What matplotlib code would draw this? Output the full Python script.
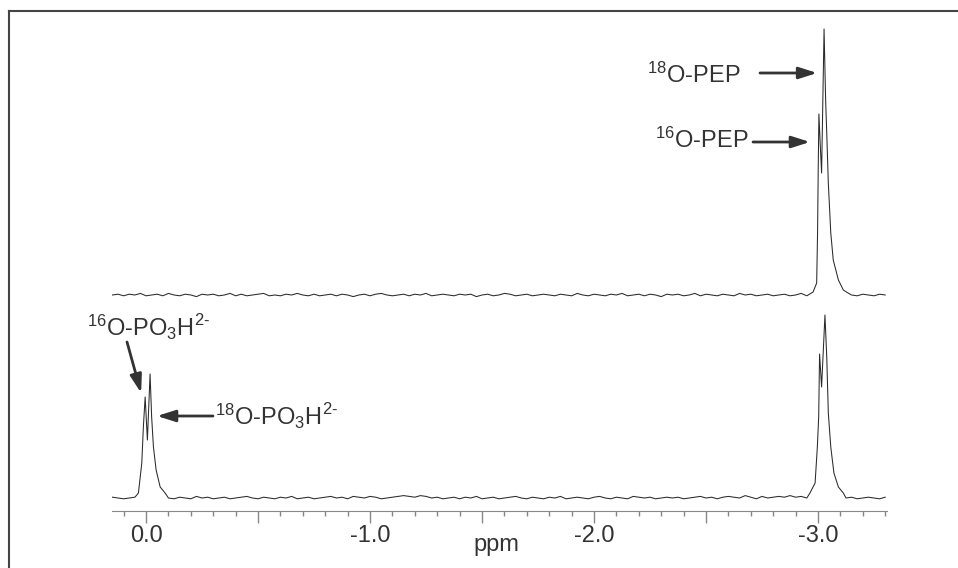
import numpy as np
import matplotlib
matplotlib.use("Agg")
import matplotlib.pyplot as plt
from matplotlib.lines import Line2D
from matplotlib.ticker import MultipleLocator

plt.rcParams["font.family"] = ["Liberation Sans", "DejaVu Sans"]
plt.rcParams["mathtext.fontset"] = "custom"
plt.rcParams["mathtext.rm"] = "Liberation Sans"

# baseline wiggles, sampled every 0.025 ppm from 0.15 to -3.30 ppm
top_noise = [0, 1, -1, 1, 0, 2, -1, 0, 1, -1, 2, 0, -1, 1, 0, -2, 1, 0, 1, -1,
             0, 2, -1, 1, -1, 0, 1, 2, -1, 0, -1, 1, 0, 2, 0, -1, 1, -1, 0, 1,
             -1, 1, 0, -2, 0, 1, -1, 1, 2, 0, -1, 0, 1, -1, 1, 0, 2, -1, 0, 1,
             0, -1, 1, 0, 1, -2, 0, 1, -1, 0, 2, 1, -1, 0, 1, -1, 0, 1, 0, -1,
             1, 0, -1, 2, 0, -1, 1, 0, -1, 1, 0, 2, -1, 0, 1, -1, 1, 0, -2, 1,
             0, 1, -1, 0, 2, -1, 1, 0, -1, 1, 0, -1, 2, 0, 1, -1, 0, 1, -1, 0,
             1, -1, 0, 2, -1, 0, 1, -1, 1, 0, -1, 2, 0, -1, 1, 0, -1, 1, 0]
bottom_noise = [1, 0, -1, 0, 1, 0, 0, 0, 0, 0, 0, -1, 1, 0, -1, 2, 0, 1, -1, 0,
                1, -1, 0, 1, 2, 0, -1, 1, 0, -1, 1, 0, 2, -1, 0, 1, -1, 0, 1, 2,
                0, 1, -1, 2, 1, 0, 2, 1, -1, 0, 1, 2, 3, 2, 1, 3, 2, 0, 1, -1,
                0, 1, -1, 1, 0, 2, -1, 0, 1, -1, 0, 1, 2, 0, -1, 1, 0, -1, 1, 0,
                2, -1, 0, 1, 0, -1, 1, 2, 0, -1, 1, 0, -1, 2, 1, 0, 1, -1, 0, 1,
                0, 1, -1, 0, 1, 2, 0, 1, -1, 1, 2, 1, 0, 3, 1, -1, 2, 0, 1, 2,
                1, 3, 1, 2, 0, 1, -1, 0, 1, -1, 2, 0, 1, -1, 0, 1, 0, -1, 1]

# traced peak outlines (ppm, intensity)
pep_top_ppm = [-2.978, -2.994, -2.998, -3.001, -3.004, -3.010, -3.016, -3.022,
               -3.027, -3.034, -3.039, -3.046, -3.057, -3.068, -3.091, -3.113, -3.134]
pep_top_int = [3, 12, 62, 128, 181, 150, 122, 200,
               266, 195, 162, 112, 62, 35, 15, 5, 2]
pep_bot_ppm = [-2.964, -2.987, -2.997, -3.003, -3.007, -3.016, -3.024, -3.031,
               -3.039, -3.046, -3.057, -3.071, -3.091, -3.113]
pep_bot_int = [5, 15, 51, 81, 144, 111, 150, 183,
               141, 85, 51, 25, 11, 5]
pi_ppm = [0.045, 0.034, 0.019, 0.012, 0.004, -0.006, -0.018, -0.025,
          -0.033, -0.045, -0.063, -0.085]
pi_int = [2, 5, 35, 71, 101, 58, 124, 81,
          51, 28, 11, 5]

top_offset = 203


def build(noise, peaks):
    grid = np.linspace(0.15, -3.30, len(noise))
    keep = np.ones(len(grid), bool)
    xs, ys = [], []
    for px, py in peaks:
        keep &= (grid > max(px) + 0.005) | (grid < min(px) - 0.005)
        xs += list(px)
        ys += list(py)
    x = np.concatenate([grid[keep], xs])
    y = np.concatenate([0.8 * np.array(noise, float)[keep], ys])
    order = np.argsort(-x)
    return x[order], y[order]


xt, yt = build(top_noise, [(pep_top_ppm, pep_top_int)])
xb, yb = build(bottom_noise, [(pi_ppm, pi_int), (pep_bot_ppm, pep_bot_int)])

fig = plt.figure(figsize=(9.58, 5.68), dpi=100)
ax = fig.add_axes([112 / 958, 57 / 568, 775 / 958, 491 / 568])

ax.plot(xt, yt + top_offset, color="#2a2a2a", lw=0.75)
ax.plot(xb, yb, color="#2a2a2a", lw=0.75)

ax.set_xlim(0.152, -3.308)
ax.set_ylim(-13, 478)
for s in ["top", "left", "right"]:
    ax.spines[s].set_visible(False)
ax.spines["bottom"].set_color("#888888")
ax.set_yticks([])
ax.xaxis.set_major_locator(MultipleLocator(0.5))
ax.xaxis.set_minor_locator(MultipleLocator(0.1))
ax.set_xticklabels([])
ax.tick_params(axis="x", which="major", length=8.5, width=1, color="#888888")
ax.tick_params(axis="x", which="minor", length=3.5, width=1, color="#888888")
for v, lab in zip([0.0, -1.0, -2.0, -3.0], ["0.0", "-1.0", "-2.0", "-3.0"]):
    ax.text(v, -38, lab, ha="center", va="center", fontsize=17, color="#333333")
fig.text(496 / 958, 1 - 545 / 568, "ppm", ha="center", va="center",
         fontsize=17, color="#333333")

tc = "#333333"
ap = dict(arrowstyle="-|>,head_length=1.1,head_width=0.35", lw=2, color=tc,
          shrinkA=0, shrinkB=0, mutation_scale=10)
pi_lab = r"O-PO$\mathregular{_3}$H$^{\text{2-}}$"
ax.text(-2.652, 423, r"$\mathregular{^{18}}$O-PEP", ha="right", va="center",
        fontsize=17, color=tc)
ax.annotate("", xy=(-2.996, 425), xytext=(-2.741, 425), arrowprops=ap)
ax.text(-2.688, 358, r"$\mathregular{^{16}}$O-PEP", ha="right", va="center",
        fontsize=17, color=tc)
ax.annotate("", xy=(-2.964, 356), xytext=(-2.71, 356), arrowprops=ap)
ax.text(0.263, 171, r"$\mathregular{^{16}}$" + pi_lab,
        ha="left", va="center", fontsize=17, color=tc)
ax.annotate("", xy=(0.022, 105), xytext=(0.085, 156), arrowprops=ap)
ax.text(-0.308, 82, r"$\mathregular{^{18}}$" + pi_lab,
        ha="left", va="center", fontsize=17, color=tc)
ax.annotate("", xy=(-0.049, 82), xytext=(-0.299, 82), arrowprops=ap)

# frame lines (top and left edges)
fig.add_artist(Line2D([9 / 958, 1], [1 - 11 / 568, 1 - 11 / 568],
                      transform=fig.transFigure, color="#444444", lw=1.5))
fig.add_artist(Line2D([9 / 958, 9 / 958], [0, 1 - 11 / 568],
                      transform=fig.transFigure, color="#444444", lw=1.5))

plt.savefig("out.png", dpi=100)
